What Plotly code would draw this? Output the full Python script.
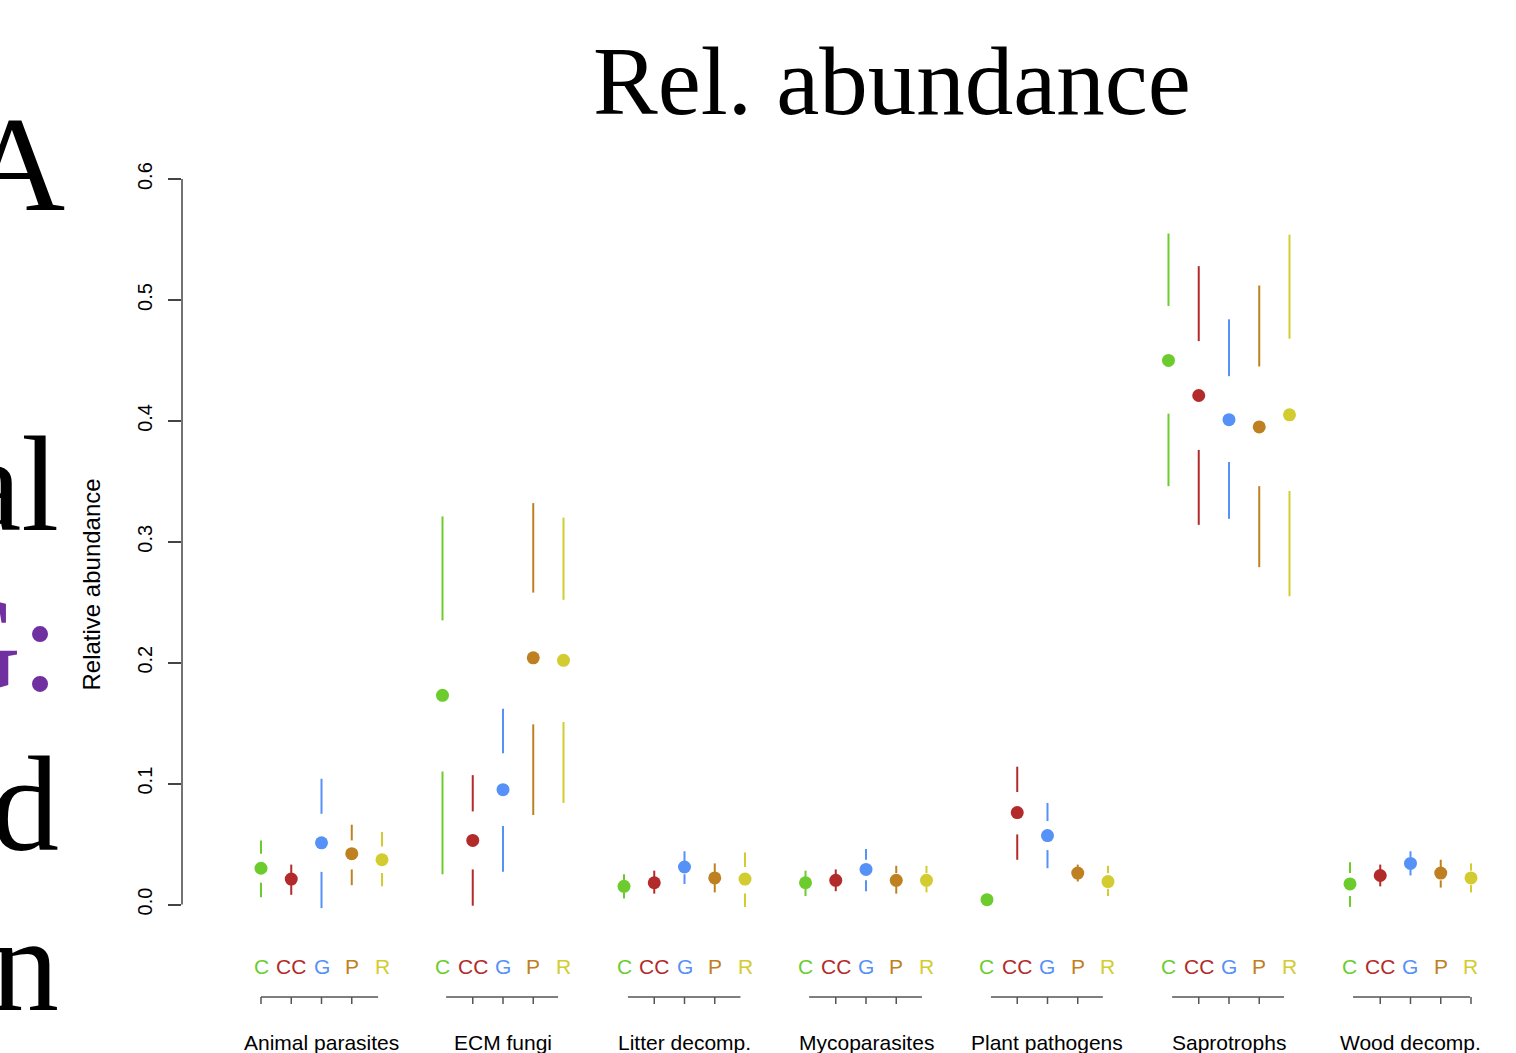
import plotly.graph_objects as go

# Functional guilds and site types
guilds = ["Animal parasites", "ECM fungi", "Litter decomp.", "Mycoparasites",
          "Plant pathogens", "Saprotrophs", "Wood decomp."]
sites = ["C", "CC", "G", "P", "R"]
site_colors = ["#6ccc2e", "#b32a2a", "#5591f7", "#bf8021", "#d3cc30"]

# Five-number summaries of relative abundance, one row per guild, one column per site
whisker_high = [
    [0.053, 0.033, 0.104, 0.066, 0.060],
    [0.321, 0.107, 0.162, 0.332, 0.320],
    [0.025, 0.028, 0.044, 0.034, 0.043],
    [0.028, 0.029, 0.046, 0.032, 0.032],
    [0.007, 0.114, 0.084, 0.033, 0.032],
    [0.555, 0.528, 0.484, 0.512, 0.554],
    [0.035, 0.033, 0.044, 0.037, 0.034],
]
upper_quartile = [
    [0.042, 0.025, 0.075, 0.053, 0.048],
    [0.235, 0.077, 0.125, 0.258, 0.252],
    [0.019, 0.022, 0.036, 0.026, 0.031],
    [0.022, 0.024, 0.037, 0.026, 0.026],
    [0.006, 0.093, 0.069, 0.029, 0.026],
    [0.495, 0.466, 0.437, 0.445, 0.468],
    [0.026, 0.028, 0.039, 0.031, 0.028],
]
median = [
    [0.030, 0.021, 0.051, 0.042, 0.037],
    [0.173, 0.053, 0.095, 0.204, 0.202],
    [0.015, 0.018, 0.031, 0.022, 0.021],
    [0.018, 0.020, 0.029, 0.020, 0.020],
    [0.004, 0.076, 0.057, 0.026, 0.019],
    [0.450, 0.421, 0.401, 0.395, 0.405],
    [0.017, 0.024, 0.034, 0.026, 0.022],
]
lower_quartile = [
    [0.018, 0.017, 0.027, 0.029, 0.026],
    [0.110, 0.029, 0.065, 0.149, 0.151],
    [0.011, 0.015, 0.025, 0.018, 0.009],
    [0.014, 0.016, 0.020, 0.016, 0.015],
    [0.003, 0.058, 0.045, 0.022, 0.013],
    [0.406, 0.376, 0.366, 0.346, 0.342],
    [0.007, 0.020, 0.029, 0.020, 0.016],
]
whisker_low = [
    [0.006, 0.008, -0.003, 0.016, 0.015],
    [0.025, -0.001, 0.027, 0.074, 0.084],
    [0.005, 0.009, 0.017, 0.010, -0.002],
    [0.007, 0.011, 0.011, 0.009, 0.010],
    [0.001, 0.037, 0.030, 0.019, 0.007],
    [0.346, 0.314, 0.319, 0.279, 0.255],
    [-0.002, 0.015, 0.024, 0.014, 0.010],
]

y_ticks = [0.0, 0.1, 0.2, 0.3, 0.4, 0.5, 0.6]
y_ticktext = ["0.0", "0.1", "0.2", "0.3", "0.4", "0.5", "0.6"]

# Per-guild bracket axis below the site letters (tick positions within a group)
bracket_ticks = [[0, 1, 2, 3], [1, 2, 3], [1, 2, 3], [1, 2, 3], [1, 2, 3], [1, 2, 3], [1, 2, 3, 4]]
bracket_span = [[0.0, 3.87], [0.12, 3.82], [0.13, 3.85], [0.12, 3.85], [0.13, 3.83], [0.12, 3.82], [0.1, 3.97]]

GROUP_STEP = 6
SANS = "Liberation Sans, Arial, sans-serif"
SERIF = "Liberation Serif, Times New Roman, serif"

# Page layout (pixels)
W, H = 1516, 1053
ML, MR, MT, MB = 182, 16, 130, 4
PLOT_W = W - ML - MR
PLOT_H = H - MT - MB
X_RANGE = [-2.6116, 40.959]
Y_RANGE = [-0.11952, 0.64061]


def px_x(px):
    return (px - ML) / PLOT_W


def px_y(py):
    return (H - MB - py) / PLOT_H


def y_val(py):
    return Y_RANGE[1] - (py - MT) / PLOT_H * (Y_RANGE[1] - Y_RANGE[0])


fig = go.Figure()

for s, (site, color) in enumerate(zip(sites, site_colors)):
    xs_line, ys_line, xs_pt, ys_pt = [], [], [], []
    for g in range(len(guilds)):
        x = g * GROUP_STEP + s
        # whiskers only; the interquartile box is left empty
        xs_line += [x, x, None, x, x, None]
        ys_line += [upper_quartile[g][s], whisker_high[g][s], None,
                    whisker_low[g][s], lower_quartile[g][s], None]
        xs_pt.append(x)
        ys_pt.append(median[g][s])
    fig.add_trace(go.Scatter(x=xs_line, y=ys_line, mode="lines",
                             line=dict(color=color, width=2),
                             hoverinfo="skip", showlegend=False))
    fig.add_trace(go.Scatter(x=xs_pt, y=ys_pt, mode="markers", name=site,
                             marker=dict(color=color, size=13, line=dict(width=0)),
                             showlegend=False))

annotations = []
shapes = []

# Site letters and bracket axis under every guild
y_letters = y_val(966)
y_bracket = y_val(997)
y_bracket_tick = y_val(1004)
y_group = y_val(1042)
for g, guild in enumerate(guilds):
    base = g * GROUP_STEP
    for s, (site, color) in enumerate(zip(sites, site_colors)):
        annotations.append(dict(x=base + s, y=y_letters, xref="x", yref="y", text=site,
                                showarrow=False, font=dict(family=SANS, size=21, color=color)))
    x0, x1 = bracket_span[g]
    shapes.append(dict(type="line", xref="x", yref="y", x0=base + x0, x1=base + x1,
                       y0=y_bracket, y1=y_bracket, line=dict(color="#555555", width=1.5)))
    for t in bracket_ticks[g]:
        shapes.append(dict(type="line", xref="x", yref="y", x0=base + t, x1=base + t,
                           y0=y_bracket, y1=y_bracket_tick, line=dict(color="#555555", width=1.5)))
    annotations.append(dict(x=base + 2, y=y_group, xref="x", yref="y", text=guild,
                            showarrow=False, font=dict(family=SANS, size=21, color="black")))

# y-axis line spanning the tick range only
shapes.append(dict(type="line", xref="paper", yref="y", x0=0, x1=0, y0=0, y1=0.6,
                   line=dict(color="#444444", width=1.5)))

# Axis title and panel title
annotations.append(dict(x=px_x(75), y=px_y(585), xref="paper", yref="paper",
                        text="Relative abundance", textangle=-90, showarrow=False,
                        font=dict(family=SANS, size=24, color="black")))
annotations.append(dict(x=px_x(892), y=px_y(26), xref="paper", yref="paper",
                        text="Rel. abundance", showarrow=False,
                        font=dict(family=SERIF, size=97, color="black")))

# Text from the neighbouring panel running off the left edge
side_text = [("A", 66, 210, "black"), ("al", 60, 530, "black"), ("G:", 60, 690, "#7030a0"),
             ("d", 60, 850, "black"), ("n", 60, 1010, "black")]
for txt, right_px, baseline_px, col in side_text:
    annotations.append(dict(x=px_x(right_px), y=px_y(baseline_px - 46), xref="paper", yref="paper",
                            xanchor="right", yanchor="middle", text=txt, showarrow=False,
                            borderpad=0, font=dict(family=SERIF, size=136, color=col)))

fig.update_layout(
    width=W, height=H,
    margin=dict(l=ML, r=MR, t=MT, b=MB, pad=0),
    paper_bgcolor="white", plot_bgcolor="white",
    showlegend=False,
    xaxis=dict(range=X_RANGE, visible=False, fixedrange=True),
    yaxis=dict(range=Y_RANGE, tickvals=y_ticks, ticktext=y_ticktext, tickangle=-90,
               ticks="outside", ticklen=13, tickwidth=1.5, tickcolor="#444444",
               ticklabelstandoff=8,
               tickfont=dict(family=SANS, size=20, color="black"),
               showline=False, showgrid=False, zeroline=False, fixedrange=True),
    annotations=annotations,
    shapes=shapes,
)

fig.write_html("out.html")
